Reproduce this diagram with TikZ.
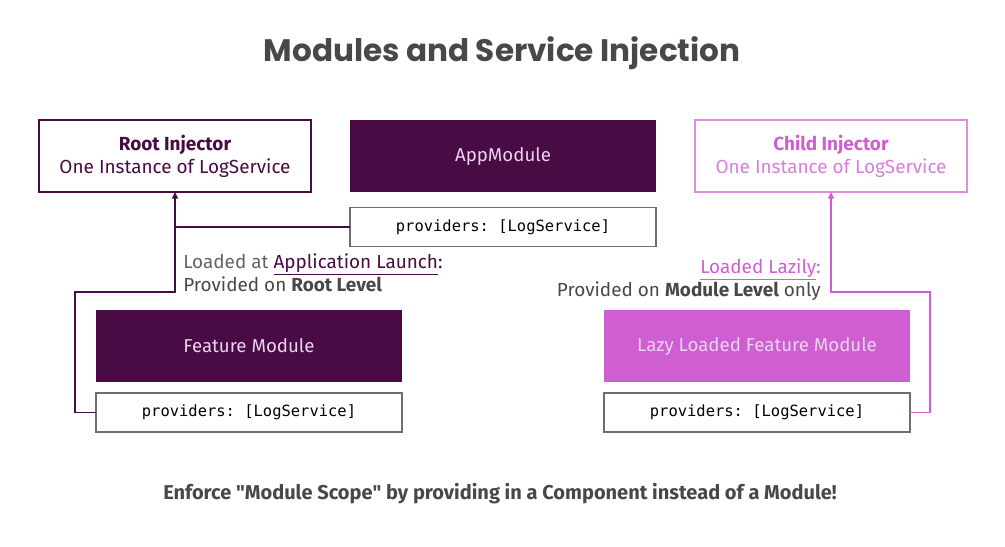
\documentclass[tikz,border=0pt]{standalone}
\usepackage{fontspec}
\setmainfont{Fira Sans}
\setmonofont{DejaVu Sans Mono}
\newfontfamily\titlefont{Poppins}
\usetikzlibrary{arrows.meta, positioning}
\definecolor{rootpurple}{RGB}{73,11,67}
\definecolor{lazypink}{RGB}{207,94,210}
\definecolor{lightpink}{RGB}{236,210,236}
\definecolor{textgray}{RGB}{72,72,72}
\definecolor{boxgray}{RGB}{110,110,110}
\tikzset{
  injector/.style={
    rectangle, minimum width=204pt, minimum height=54pt,
    inner sep=0pt, outer sep=0pt, align=center,
    fill=white, line width=0.8pt,
    font=\fontsize{14.2}{17.25}\selectfont
  },
  module/.style={
    rectangle, minimum width=229.5pt, minimum height=54pt,
    inner sep=0pt, outer sep=0pt, text=lightpink,
    font=\fontsize{14}{16}\selectfont
  },
  providers/.style={
    rectangle, minimum width=229.5pt, minimum height=29.25pt,
    inner sep=0pt, outer sep=0pt,
    draw=boxgray, line width=0.8pt, fill=white,
    font=\ttfamily\fontsize{11.6}{13}\selectfont
  },
  note/.style={text=textgray, inner sep=0pt, font=\fontsize{14.2}{17.25}\selectfont},
  arrow/.style={-{Triangle[length=5pt, width=4.5pt]}, line width=1.1pt},
  link/.style={line width=1.1pt},
}

\begin{document}
\begin{tikzpicture}[x=0.75pt, y=0.75pt]
  \useasboundingbox (0,0) rectangle (1005,-546);

  % Title
  \node[text=textgray, font=\titlefont\bfseries\fontsize{23.3}{27}\selectfont] (title) at (502,-53)
        {Modules and Service Injection};

  % Injectors and app module
  \node[injector, draw=rootpurple, text=rootpurple] (root) at (175,-156)
        {\textbf{Root Injector}\\One Instance of LogService};
  \node[module, fill=rootpurple] (app) at (503,-156) {AppModule};
  \node[providers, below=10.5pt of app, yshift=-1pt] (appprov) {providers: [LogService]};
  \node[injector, draw=lazypink!70, text=lazypink] (child) at (831,-156)
        {\textbf{Child Injector}\\\textcolor{lazypink!80}{One Instance of LogService}};

  % Feature modules
  \node[module, fill=rootpurple] (feat) at (249,-346) {Feature Module};
  \node[providers, below=8.25pt of feat] (featprov) {providers: [LogService]};
  \node[module, fill=lazypink] (lazy) at (757,-346) {Lazy Loaded Feature Module};
  \node[providers, below=8.25pt of lazy] (lazyprov) {providers: [LogService]};

  % Labels
  \node[note, anchor=north west, align=left] (launch) at (183,-253)
        {\textcolor{textgray!85}{Loaded at} \textcolor{rootpurple}{\underline{Application Launch}:}\\
         Provided on \textbf{Root Level}};
  \node[note, anchor=north east, align=right] (lazily) at (821,-258)
        {\textcolor{lazypink}{\underline{Loaded Lazily}:}\\
         Provided on \textbf{Module Level} only};

  % Connectors
  \coordinate (rootturn) at (175,-292);
  \coordinate (childturn) at (831,-292);
  \draw[link, rootpurple] (appprov.west) -- (appprov.west -| root.south);
  \draw[arrow, rootpurple] (featprov.west) -- ++(-21,0) |- (rootturn) -- (root.south);
  \draw[arrow, lazypink] (lazyprov.east) -- ++(20,0) |- (childturn) -- (child.south);

  % Footer
  \node[text=textgray, font=\bfseries\fontsize{15}{18}\selectfont] (footer) at (500,-494)
        {Enforce \textquotedbl Module Scope\textquotedbl{} by providing in a Component instead of a Module!};

\end{tikzpicture}
\end{document}
